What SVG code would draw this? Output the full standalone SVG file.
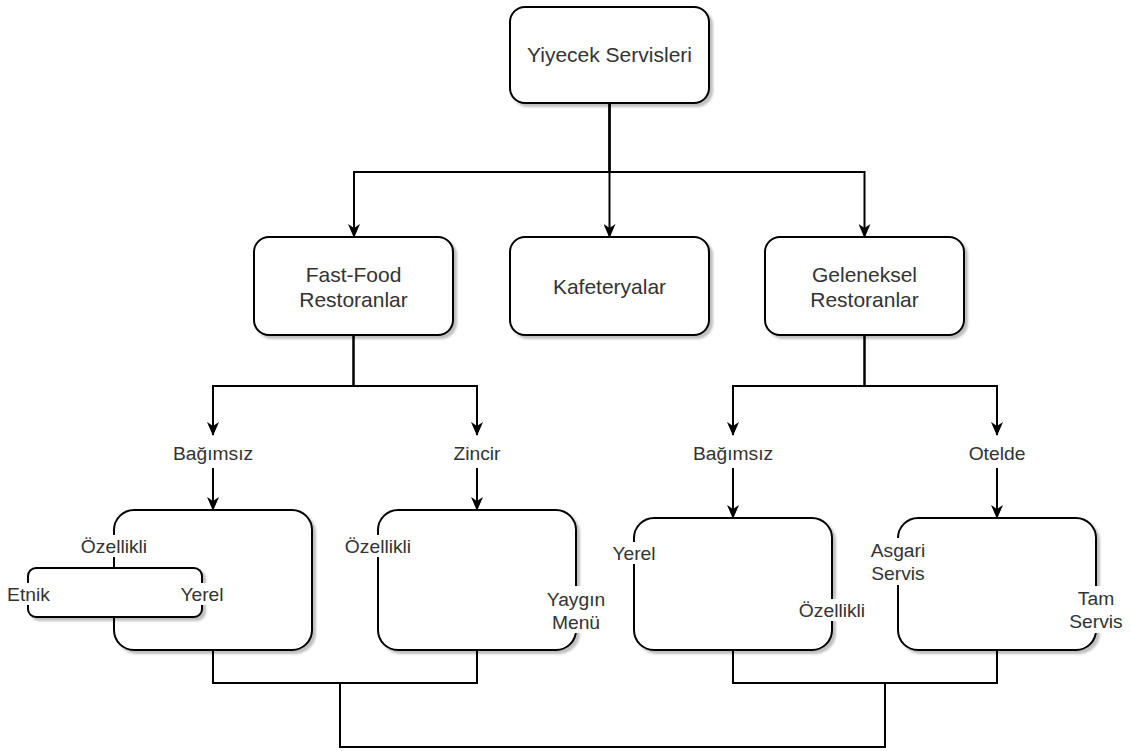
<svg xmlns="http://www.w3.org/2000/svg" width="1131" height="751" viewBox="0 0 1131 751">
<style>
.box{fill:#fff;stroke:#000;stroke-width:2;filter:url(#sh)}
.c{fill:none;stroke:#000;stroke-width:2}
.a{marker-end:url(#arr)}
.t{font-family:"Liberation Sans",Arial,sans-serif;font-size:21px;fill:#333;text-anchor:middle}
.s{font-size:19.25px}
.bg{fill:#fff}
</style>
<defs>
<filter id="sh" x="-10%" y="-10%" width="130%" height="130%">
<feDropShadow dx="3" dy="3" stdDeviation="1" flood-color="#000" flood-opacity="0.25"/>
</filter>
<marker id="arr" viewBox="0 0 14 12" refX="13" refY="6" markerWidth="14" markerHeight="12" markerUnits="userSpaceOnUse" orient="auto">
<path d="M0,0 L14,6 L0,12 L4,6 Z" fill="#000"/>
</marker>
</defs>
<g id="connectors">
<path class="c a" d="M609.5,103 V172 H354 V237"/>
<path class="c a" d="M609.5,103 V237"/>
<path class="c a" d="M609.5,103 V172 H864.5 V237"/>
<path class="c a" d="M353.5,335 V386 H213 V435"/>
<path class="c a" d="M353.5,335 V386 H477 V435"/>
<path class="c a" d="M213,468 V510"/>
<path class="c a" d="M477,468 V510"/>
<path class="c a" d="M864.5,335 V386 H733 V435"/>
<path class="c a" d="M864.5,335 V386 H997 V435"/>
<path class="c a" d="M733,468 V518"/>
<path class="c a" d="M997,468 V518"/>
<path class="c" d="M213,650 V683 H477 V650"/>
<path class="c" d="M733,650 V683 H997 V650"/>
<path class="c" d="M340,683 V747 H885 V683"/>
</g>
<g id="yiyecek">
<rect class="box" x="510" y="7" width="199" height="96" rx="15"/>
<text class="t" x="609.5" y="62">Yiyecek Servisleri</text>
</g>
<g id="fastfood">
<rect class="box" x="254" y="237" width="199" height="98" rx="15"/>
<text class="t" x="353.5" y="282">Fast-Food</text>
<text class="t" x="353.5" y="307">Restoranlar</text>
</g>
<g id="kafeteryalar">
<rect class="box" x="510" y="237" width="199" height="98" rx="15"/>
<text class="t" x="609.5" y="294">Kafeteryalar</text>
</g>
<g id="geleneksel">
<rect class="box" x="765" y="237" width="199" height="98" rx="15"/>
<text class="t" x="864.5" y="282">Geleneksel</text>
<text class="t" x="864.5" y="307">Restoranlar</text>
</g>
<g id="lbl-bagimsiz1"><text class="t s" x="213" y="460">Bağımsız</text></g>
<g id="lbl-zincir"><text class="t s" x="477" y="460">Zincir</text></g>
<g id="lbl-bagimsiz2"><text class="t s" x="733" y="460">Bağımsız</text></g>
<g id="lbl-otelde"><text class="t s" x="997" y="460">Otelde</text></g>
<g id="ff-bagimsiz">
<rect class="box" x="114" y="510" width="198" height="140" rx="20"/>
<rect class="bg" x="80" y="535" width="68" height="22"/>
<text class="t s" x="114" y="553">Özellikli</text>
</g>
<g id="etnik-yerel">
<rect class="box" x="28" y="568" width="174" height="49" rx="8"/>
<rect class="bg" x="7" y="583" width="43" height="22"/>
<text class="t s" x="28.5" y="601">Etnik</text>
<rect class="bg" x="180" y="583" width="45" height="22"/>
<text class="t s" x="202" y="601">Yerel</text>
</g>
<g id="ff-zincir">
<rect class="box" x="378" y="510" width="198" height="140" rx="20"/>
<rect class="bg" x="345" y="535" width="66" height="22"/>
<text class="t s" x="378" y="553">Özellikli</text>
<rect class="bg" x="546" y="586" width="60" height="47"/>
<text class="t s" x="576" y="606">Yaygın</text>
<text class="t s" x="576" y="629">Menü</text>
</g>
<g id="gel-bagimsiz">
<rect class="box" x="634" y="518" width="198" height="132" rx="20"/>
<rect class="bg" x="611" y="542" width="46" height="22"/>
<text class="t s" x="634" y="560">Yerel</text>
<rect class="bg" x="799" y="599" width="66" height="22"/>
<text class="t s" x="832" y="617">Özellikli</text>
</g>
<g id="gel-otelde">
<rect class="box" x="898" y="518" width="198" height="132" rx="20"/>
<rect class="bg" x="870" y="538" width="56" height="47"/>
<text class="t s" x="898" y="557">Asgari</text>
<text class="t s" x="898" y="580">Servis</text>
<rect class="bg" x="1068" y="586" width="56" height="47"/>
<text class="t s" x="1096" y="605">Tam</text>
<text class="t s" x="1096" y="628">Servis</text>
</g>
</svg>
